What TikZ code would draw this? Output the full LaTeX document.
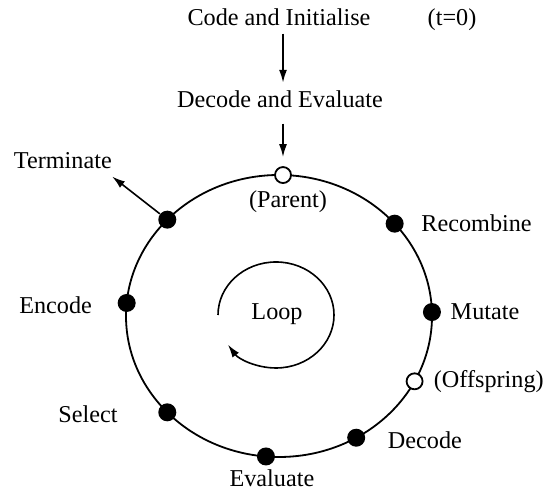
\documentclass[tikz,border=0pt]{standalone}
\usepackage{fontspec}
\setmainfont{Liberation Serif}
\usetikzlibrary{positioning,calc,arrows.meta}

\begin{document}
\begin{tikzpicture}[x=0.5pt, y=0.5pt,
        font=\fontsize{12.1}{14.5}\selectfont,
        >={Latex[length=6.5pt,width=4pt]},
        lbl/.style={inner sep=0pt},
        blackdot/.style={circle, fill=black, inner sep=0pt, minimum size=9pt},
        whitedot/.style={circle, draw=black, fill=white, line width=0.9pt, inner sep=0pt, minimum size=8pt}]
    \useasboundingbox (0,0) rectangle (550,490);

    % Start
    \node[lbl, anchor=base] (code) at (279,464) {Code and Initialise};
    \node[lbl, anchor=base] (tzero) at (452,464) {(t=0)};
    \node[lbl, anchor=base] (decodeeval) at (280,382) {Decode and Evaluate};

    % Cycle
    \coordinate (c) at (279,174);
    \draw[line width=0.9pt] (c) ellipse [x radius=153, y radius=141];

    \node[whitedot] (parent) at ($(c)+(88.5:153 and 141)$) {};
    \node[whitedot] (offspring) at ($(c)+(-27.6:153 and 141)$) {};
    \foreach \a/\n in {40.9/recomb, 1.6/mutate, -59.7/decodedot, -94.9/evaldot,
                       -136.9/selectdot, 174.7/encodedot, 136.9/termdot}
        \node[blackdot] (\n) at ($(c)+(\a:153 and 141)$) {};

    \draw[->, line width=0.9pt, shorten <=3.5pt, shorten >=4pt] (code.south -| parent) -- (decodeeval.north -| parent);
    \draw[->, line width=0.9pt, shorten <=7.5pt, shorten >=4.5pt] (decodeeval.south -| parent) -- (parent);

    % Labels
    \node[lbl, below=3pt of parent, xshift=2.5pt] (parentlbl) {(Parent)};
    \node[lbl, right=8.5pt of recomb] (recomblbl) {Recombine};
    \node[lbl, right=4.5pt of mutate] (mutatelbl) {Mutate};
    \node[lbl, right=5pt of offspring] (offspringlbl) {(Offspring)};
    \node[lbl, right=11pt of decodedot, yshift=-1pt] (decodelbl) {Decode};
    \node[lbl, below=1.5pt of evaldot, xshift=3pt] (evallbl) {Evaluate};
    \node[lbl, left=20pt of selectdot, yshift=-1pt] (selectlbl) {Select};
    \node[lbl, left=12.5pt of encodedot, yshift=-1pt] (encodelbl) {Encode};

    % Terminate
    \coordinate (termtip) at ($(termdot)+(142:70)$);
    \draw[->, line width=0.8pt] (termdot) -- (termtip);
    \node[lbl, anchor=south east] (termlbl) at ([yshift=3.5pt]termtip) {Terminate};

    % Loop
    \coordinate (loopc) at (276,175);
    \draw[->, line width=0.8pt] ($(loopc)+(180:58 and 53)$) arc[start angle=180, end angle=-146, x radius=58, y radius=53];
    \node[lbl] (looplbl) at (277,176) {Loop};
\end{tikzpicture}
\end{document}
